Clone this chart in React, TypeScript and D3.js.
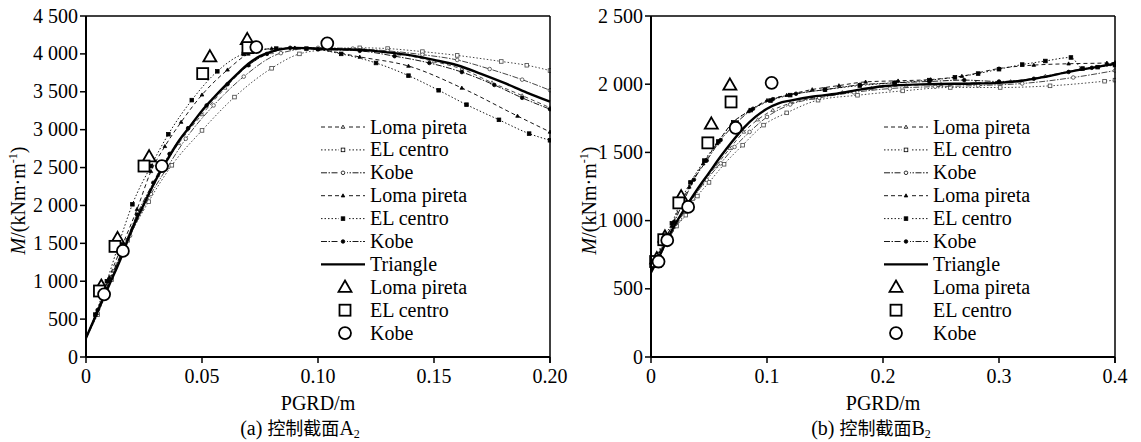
import * as d3 from 'd3';

type Pt = [number, number];

// ---- panel (a): control section A2 ----
const aLomaOpen: Pt[] = [[0,250],[0.0045,560],[0.0095,1000],[0.017,1450],[0.024,1950],[0.031,2400],[0.04,2820],[0.05,3200],[0.06,3550],[0.07,3850],[0.08,4020],[0.09,4075],[0.104,4070],[0.12,4050],[0.135,4000],[0.15,3900],[0.162,3800],[0.175,3620],[0.188,3450],[0.2,3290]];
const aElOpen: Pt[] = [[0,250],[0.005,560],[0.011,1020],[0.018,1540],[0.027,2050],[0.037,2530],[0.05,2990],[0.064,3430],[0.08,3810],[0.092,4000],[0.105,4060],[0.118,4080],[0.13,4070],[0.145,4030],[0.16,3980],[0.179,3900],[0.19,3850],[0.2,3780]];
const aKobeOpen: Pt[] = [[0,250],[0.005,580],[0.011,1050],[0.019,1600],[0.028,2150],[0.035,2500],[0.043,2880],[0.055,3320],[0.068,3700],[0.084,4010],[0.1,4080],[0.115,4070],[0.13,4040],[0.145,3990],[0.16,3920],[0.174,3800],[0.188,3660],[0.2,3520]];
const aLomaFill: Pt[] = [[0,250],[0.0045,580],[0.01,1050],[0.016,1500],[0.022,1950],[0.028,2450],[0.034,2780],[0.041,3100],[0.05,3460],[0.061,3790],[0.07,4000],[0.08,4070],[0.09,4080],[0.1,4060],[0.118,3960],[0.139,3840],[0.162,3550],[0.186,3180],[0.2,2970]];
const aElFill: Pt[] = [[0,250],[0.004,560],[0.009,1000],[0.014,1480],[0.02,2015],[0.028,2520],[0.0355,2940],[0.0456,3390],[0.0566,3770],[0.068,4000],[0.082,4070],[0.095,4070],[0.11,4000],[0.125,3880],[0.139,3713],[0.152,3520],[0.164,3330],[0.178,3130],[0.191,2948],[0.2,2860]];
const aKobeFill: Pt[] = [[0,250],[0.005,620],[0.01,1000],[0.016,1430],[0.022,1880],[0.029,2300],[0.036,2680],[0.044,3020],[0.052,3320],[0.061,3600],[0.07,3850],[0.078,4000],[0.088,4080],[0.1,4060],[0.118,4040],[0.133,3970],[0.148,3880],[0.162,3760],[0.176,3590],[0.188,3420],[0.2,3270]];
const aTriangle: Pt[] = [[0,250],[0.005,600],[0.01,950],[0.015,1300],[0.02,1700],[0.025,2020],[0.03,2330],[0.035,2600],[0.04,2850],[0.045,3050],[0.05,3250],[0.055,3420],[0.06,3580],[0.065,3730],[0.07,3870],[0.075,3970],[0.08,4030],[0.09,4080],[0.1,4070],[0.11,4060],[0.12,4050],[0.13,4020],[0.14,3980],[0.15,3920],[0.16,3850],[0.17,3740],[0.18,3620],[0.19,3490],[0.2,3370]];
const aPtsLoma: Pt[] = [[0.0066,933],[0.0136,1562],[0.0272,2640],[0.0534,3960],[0.0695,4188]];
const aPtsEl: Pt[] = [[0.0058,871],[0.0125,1460],[0.025,2520],[0.0503,3740],[0.0698,4083]];
const aPtsKobe: Pt[] = [[0.0078,827],[0.0159,1400],[0.0327,2520],[0.0734,4090],[0.104,4140]];
const aXTicks = [0, 0.05, 0.1, 0.15, 0.2];
const aXLabels = ['0', '0.05', '0.10', '0.15', '0.20'];
const aYTicks = [0, 500, 1000, 1500, 2000, 2500, 3000, 3500, 4000, 4500];

// ---- panel (b): control section B2 ----
const bLomaOpen: Pt[] = [[0,620],[0.006,720],[0.013,840],[0.022,990],[0.032,1120],[0.044,1270],[0.056,1400],[0.068,1530],[0.08,1650],[0.092,1740],[0.105,1810],[0.12,1860],[0.14,1900],[0.165,1940],[0.19,1970],[0.22,1990],[0.25,2000],[0.28,2010],[0.31,2020],[0.34,2060],[0.37,2110],[0.4,2150]];
const bElOpen: Pt[] = [[0,620],[0.006,710],[0.013,830],[0.022,960],[0.03,1040],[0.04,1180],[0.05,1280],[0.063,1413],[0.079,1553],[0.097,1700],[0.117,1790],[0.144,1883],[0.178,1919],[0.217,1951],[0.258,1976],[0.301,1976],[0.344,1988],[0.391,2022],[0.4,2030]];
const bKobeOpen: Pt[] = [[0,620],[0.007,730],[0.015,860],[0.025,1010],[0.036,1160],[0.048,1300],[0.06,1420],[0.072,1540],[0.085,1650],[0.1,1760],[0.12,1851],[0.145,1900],[0.175,1940],[0.206,1968],[0.245,1982],[0.282,1990],[0.32,2005],[0.364,2049],[0.4,2100]];
const bLomaFill: Pt[] = [[0,620],[0.006,740],[0.012,860],[0.018,960],[0.025,1110],[0.033,1247],[0.045,1418],[0.057,1565],[0.07,1716],[0.084,1800],[0.1,1882],[0.117,1919],[0.139,1961],[0.162,1990],[0.185,2017],[0.213,2025],[0.241,2034],[0.268,2059],[0.3,2115],[0.33,2140],[0.36,2150],[0.393,2156],[0.4,2160]];
const bElFill: Pt[] = [[0,620],[0.005,730],[0.011,870],[0.018,980],[0.026,1150],[0.034,1280],[0.046,1440],[0.058,1580],[0.071,1720],[0.086,1810],[0.103,1880],[0.12,1920],[0.15,1960],[0.18,1990],[0.21,2010],[0.24,2030],[0.262,2050],[0.282,2078],[0.3,2110],[0.32,2144],[0.34,2170],[0.362,2196],[0.372,2115],[0.385,2125],[0.4,2140]];
const bKobeFill: Pt[] = [[0,620],[0.006,740],[0.013,880],[0.02,990],[0.028,1140],[0.037,1300],[0.048,1440],[0.06,1590],[0.074,1720],[0.088,1820],[0.105,1890],[0.125,1930],[0.15,1960],[0.18,1995],[0.21,2010],[0.24,2020],[0.27,2030],[0.3,2020],[0.33,2040],[0.36,2090],[0.38,2120],[0.4,2145]];
const bTriangle: Pt[] = [[0,620],[0.005,700],[0.01,790],[0.015,880],[0.02,960],[0.03,1100],[0.04,1230],[0.05,1350],[0.06,1470],[0.07,1580],[0.08,1680],[0.09,1760],[0.1,1820],[0.11,1860],[0.12,1880],[0.14,1910],[0.16,1930],[0.18,1960],[0.2,1985],[0.24,2000],[0.28,2005],[0.3,2010],[0.32,2025],[0.34,2055],[0.36,2090],[0.38,2120],[0.4,2150]];
const bPtsLoma: Pt[] = [[0.005,720],[0.012,880],[0.026,1174],[0.052,1707],[0.068,1993]];
const bPtsEl: Pt[] = [[0.004,700],[0.011,860],[0.024,1130],[0.049,1570],[0.069,1870]];
const bPtsKobe: Pt[] = [[0.0065,700],[0.014,856],[0.032,1100],[0.073,1680],[0.104,2010]];
const bXTicks = [0, 0.1, 0.2, 0.3, 0.4];
const bXLabels = ['0', '0.1', '0.2', '0.3', '0.4'];
const bYTicks = [0, 500, 1000, 1500, 2000, 2500];

const legendNames = ['Loma pireta', 'EL centro', 'Kobe', 'Loma pireta', 'EL centro', 'Kobe', 'Triangle', 'Loma pireta', 'EL centro', 'Kobe'];

const SERIF = '"Liberation Serif", "Times New Roman", serif';
const CJK = '"Noto Sans CJK SC", sans-serif';

type Shape = 'tri' | 'sq' | 'circ';
const DASH: Record<Shape, string> = { tri: '4,3', sq: '1.5,2', circ: '6,1.5,1.5,1.5' };
const BIG: Record<Shape, number> = { tri: 13, sq: 11, circ: 12 };

function Marker({ x, y, shape, size, filled, sw = 1, color = '#000' }: { x: number; y: number; shape: Shape; size: number; filled: boolean; sw?: number; color?: string }) {
  const fill = filled ? color : '#fff';
  if (shape === 'tri') {
    const h = size * 0.87;
    return <path d={`M${x},${y - h * 0.6}L${x + size / 2},${y + h * 0.4}L${x - size / 2},${y + h * 0.4}Z`} fill={fill} stroke={color} strokeWidth={sw} />;
  }
  if (shape === 'sq') {
    return <rect x={x - size / 2} y={y - size / 2} width={size} height={size} fill={fill} stroke={color} strokeWidth={sw} />;
  }
  return <circle cx={x} cy={y} r={size / 2} fill={fill} stroke={color} strokeWidth={sw} />;
}

interface PanelProps {
  left: number; right: number; top: number; bottom: number;
  xMax: number; yMax: number;
  xTicks: number[]; xLabels: string[]; yTicks: number[];
  curves: { data: Pt[]; shape: Shape; filled: boolean }[];
  tri: Pt[];
  pts: { data: Pt[]; shape: Shape }[];
  legendX: number; legendMarkX: number;
  yLabelX: number; captionX: number; captionLetter: string; captionSub: string;
}

function Panel(p: PanelProps) {
  const x = d3.scaleLinear().domain([0, p.xMax]).range([p.left, p.right]);
  const y = d3.scaleLinear().domain([0, p.yMax]).range([p.bottom, p.top]);
  const line = d3.line<Pt>().x(d => x(d[0])).y(d => y(d[1])).curve(d3.curveMonotoneX);
  const fmt = (v: number) => d3.format(',')(v).replace(',', ' ');
  const rowY = (i: number) => 127 + i * 22.9;
  const midY = (p.top + p.bottom) / 2;
  const shapes: Shape[] = ['tri', 'sq', 'circ'];

  return (
    <g>
      <defs>
        <clipPath id={`clip${p.left}`}>
          <rect x={p.left} y={p.top - 10} width={p.right - p.left + 1} height={p.bottom - p.top + 10} />
        </clipPath>
      </defs>
      <g clipPath={`url(#clip${p.left})`}>
        {p.curves.map((c, i) => (
          <g key={i}>
            <path d={line(c.data) ?? ''} fill="none" stroke={c.filled ? '#000' : '#333'} strokeWidth={0.9} strokeDasharray={DASH[c.shape]} />
            {c.data.slice(1).map((d, j) => (
              <Marker key={j} x={x(d[0])} y={y(d[1])} shape={c.shape} size={3.6} filled={c.filled} sw={0.8} color={c.filled ? '#000' : '#444'} />
            ))}
          </g>
        ))}
        <path d={line(p.tri) ?? ''} fill="none" stroke="#000" strokeWidth={2.4} />
      </g>
      {p.pts.map((s, i) => s.data.map((d, j) => (
        <Marker key={`${i}-${j}`} x={x(d[0])} y={y(d[1])} shape={s.shape} size={BIG[s.shape]} filled={false} sw={1.8} />
      )))}

      {/* frame */}
      <line x1={p.left} x2={p.right} y1={p.top} y2={p.top} stroke="#000" strokeWidth={1.5} />
      <line x1={p.right} x2={p.right} y1={p.top} y2={p.bottom + 6} stroke="#000" strokeWidth={1.5} />
      <line x1={p.left} x2={p.left} y1={p.top} y2={p.bottom} stroke="#000" strokeWidth={2} />
      <line x1={p.left} x2={p.right} y1={p.bottom} y2={p.bottom} stroke="#000" strokeWidth={2} />

      {p.yTicks.map(v => (
        <g key={v}>
          <line x1={p.left - 6} x2={p.left} y1={y(v)} y2={y(v)} stroke="#000" strokeWidth={1.5} />
          <text x={p.left - 8} y={y(v) + 6.5} textAnchor="end" fontFamily={SERIF} fontSize={20}>{fmt(v)}</text>
        </g>
      ))}
      {p.xTicks.map((v, i) => (
        <g key={v}>
          <line x1={x(v)} x2={x(v)} y1={p.bottom} y2={p.bottom + 6} stroke="#000" strokeWidth={1.5} />
          <text x={x(v)} y={p.bottom + 26} textAnchor="middle" fontFamily={SERIF} fontSize={20}>{p.xLabels[i]}</text>
        </g>
      ))}

      <text x={(p.left + p.right) / 2} y={410} textAnchor="middle" fontFamily={SERIF} fontSize={20}>PGRD/m</text>
      <text x={p.captionX} y={435} textAnchor="middle" fontFamily={SERIF} fontSize={20}>
        {p.captionLetter} <tspan fontFamily={CJK} fontSize={18}>控制截面</tspan>{p.captionSub}
        <tspan fontSize={12} dy={3}>2</tspan>
      </text>
      <text transform={`translate(${p.yLabelX},${midY + 14}) rotate(-90)`} textAnchor="middle" fontFamily={SERIF} fontSize={20}>
        <tspan fontStyle="italic">M</tspan>/(kNm·m<tspan fontSize={12} dy={-8}>-1</tspan><tspan dy={8}>)</tspan>
      </text>

      {/* legend */}
      {legendNames.map((name, i) => {
        const ly = rowY(i);
        const x0 = p.legendX, x1 = p.legendX + 44;
        return (
          <g key={i}>
            {i < 6 && (
              <>
                <line x1={x0} x2={x1} y1={ly} y2={ly} stroke="#000" strokeWidth={0.9} strokeDasharray={DASH[shapes[i % 3]]} />
                <rect x={x0 + 18} y={ly - 3} width={8} height={6} fill="#fff" />
                <Marker x={x0 + 22} y={ly} shape={shapes[i % 3]} size={3.6} filled={i >= 3} sw={0.8} />
              </>
            )}
            {i === 6 && <line x1={x0} x2={x1} y1={ly} y2={ly} stroke="#000" strokeWidth={2.4} />}
            {i > 6 && <Marker x={p.legendMarkX} y={ly} shape={shapes[i - 7]} size={BIG[shapes[i - 7]]} filled={false} sw={1.8} />}
            <text x={x1 + 5} y={ly + 6.5} fontFamily={SERIF} fontSize={20}>{name}</text>
          </g>
        );
      })}
    </g>
  );
}

export default function App() {
  return (
    <svg width={1141} height={442} style={{ position: 'absolute', left: 0, top: 0, background: '#fff' }}>
      <Panel
        left={86} right={550} top={16} bottom={357} xMax={0.2} yMax={4500}
        xTicks={aXTicks} xLabels={aXLabels} yTicks={aYTicks}
        curves={[
          { data: aLomaOpen, shape: 'tri', filled: false },
          { data: aElOpen, shape: 'sq', filled: false },
          { data: aKobeOpen, shape: 'circ', filled: false },
          { data: aLomaFill, shape: 'tri', filled: true },
          { data: aElFill, shape: 'sq', filled: true },
          { data: aKobeFill, shape: 'circ', filled: true },
        ]}
        tri={aTriangle}
        pts={[{ data: aPtsLoma, shape: 'tri' }, { data: aPtsEl, shape: 'sq' }, { data: aPtsKobe, shape: 'circ' }]}
        legendX={321} legendMarkX={345} yLabelX={25} captionX={300} captionLetter="(a)" captionSub="A"
      />
      <Panel
        left={651} right={1115} top={16} bottom={357} xMax={0.4} yMax={2500}
        xTicks={bXTicks} xLabels={bXLabels} yTicks={bYTicks}
        curves={[
          { data: bLomaOpen, shape: 'tri', filled: false },
          { data: bElOpen, shape: 'sq', filled: false },
          { data: bKobeOpen, shape: 'circ', filled: false },
          { data: bLomaFill, shape: 'tri', filled: true },
          { data: bElFill, shape: 'sq', filled: true },
          { data: bKobeFill, shape: 'circ', filled: true },
        ]}
        tri={bTriangle}
        pts={[{ data: bPtsLoma, shape: 'tri' }, { data: bPtsEl, shape: 'sq' }, { data: bPtsKobe, shape: 'circ' }]}
        legendX={884} legendMarkX={896} yLabelX={596} captionX={871} captionLetter="(b)" captionSub="B"
      />
    </svg>
  );
}
